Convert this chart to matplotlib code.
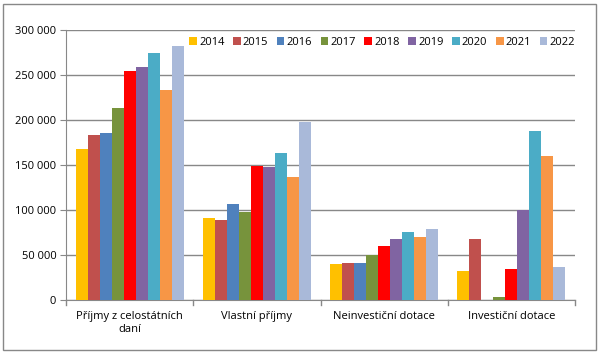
import numpy as np
import matplotlib.pyplot as plt
from matplotlib.patches import Rectangle

# categories and yearly values
categories = ["Příjmy z celostátních\ndaní", "Vlastní příjmy", "Neinvestiční dotace", "Investiční dotace"]
years = ["2014", "2015", "2016", "2017", "2018", "2019", "2020", "2021", "2022"]
v2014 = [167500, 91000, 39500, 32000]
v2015 = [183500, 89000, 41500, 67500]
v2016 = [185500, 106500, 41500, 0]
v2017 = [213000, 98000, 49500, 3000]
v2018 = [255000, 149000, 60500, 34000]
v2019 = [258500, 148000, 67500, 100000]
v2020 = [274000, 163500, 76000, 188000]
v2021 = [233000, 137000, 70000, 160000]
v2022 = [282500, 197500, 79000, 36500]
series = [v2014, v2015, v2016, v2017, v2018, v2019, v2020, v2021, v2022]
colors = ["#FFC000", "#C0504D", "#4F81BD", "#77933C", "#FF0000",
          "#8064A2", "#4BACC6", "#F79646", "#A9B9D9"]

plt.rcParams['font.family'] = ['Open Sans', 'DejaVu Sans']

fig = plt.figure(figsize=(6, 3.53), dpi=100)
ax = fig.add_axes([66/600, 1 - 300/353, (575-66)/600, 270/353])

# outer chart border
fig.patches.append(Rectangle((3/600, 3/353), 593/600, 346/353, transform=fig.transFigure,
                             fill=False, edgecolor='#888888', linewidth=1))

x = np.arange(len(categories))
bw = 0.85 / len(series)
for i, (vals, c, yr) in enumerate(zip(series, colors, years)):
    ax.bar(x - 0.425 + bw * (i + 0.5), vals, width=bw, color=c, label=yr, zorder=3)

ax.set_xlim(-0.5, len(categories) - 0.5)
ax.set_ylim(0, 300000)
ax.set_yticks(np.arange(0, 300001, 50000))
ax.set_yticklabels(["0" if v == 0 else f"{v // 1000} 000" for v in range(0, 300001, 50000)], fontsize=8)
ax.set_xticks(x)
ax.set_xticklabels(categories, fontsize=8, multialignment='center')
ax.tick_params(axis='x', length=0, pad=8)
ax.tick_params(axis='y', length=4, color='#888888', pad=3)
for b in np.arange(-0.5, len(categories), 1):
    ax.plot([b, b], [0, -5000], color='#888888', lw=1, clip_on=False, zorder=4)

ax.grid(axis='y', color='#888888', lw=1, zorder=0)
for s in ['top', 'right']:
    ax.spines[s].set_visible(False)
ax.spines['left'].set_color('#888888')
ax.spines['bottom'].set_color('#888888')

ax.legend(loc='upper left', bbox_to_anchor=(0.233, 0.99), ncol=9, frameon=False,
          fontsize=8, handlelength=0.7, handleheight=0.7, handletextpad=0.2,
          columnspacing=0.75, borderaxespad=0)

fig.savefig("out.png", dpi=100)
